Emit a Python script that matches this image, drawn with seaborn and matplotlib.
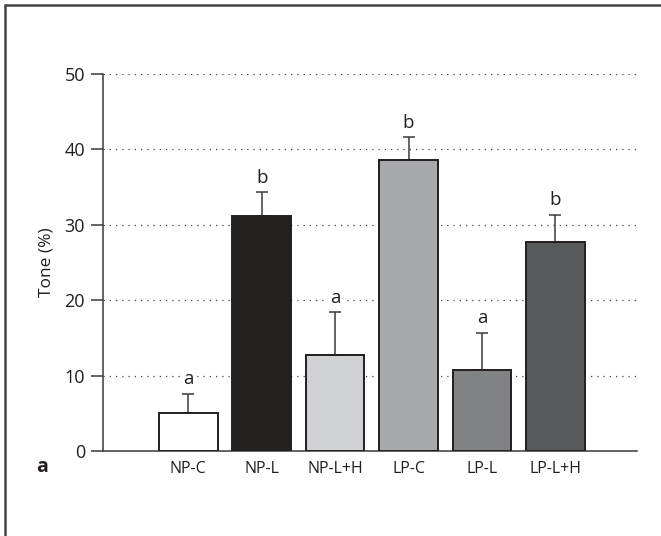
import numpy as np
import pandas as pd
import matplotlib
matplotlib.use("Agg")
import matplotlib.pyplot as plt
import seaborn as sns
from matplotlib.lines import Line2D

# Data
groups = ["NP-C", "NP-L", "NP-L+H", "LP-C", "LP-L", "LP-L+H"]
means = [5.1, 31.2, 12.7, 38.6, 10.7, 27.7]
sem = [2.5, 3.1, 5.7, 3.0, 5.0, 3.6]
letters = ["a", "b", "a", "b", "a", "b"]
bar_colors = ["#ffffff", "#231f20", "#d1d2d4", "#a7a9ac", "#808285", "#58595b"]

df = pd.DataFrame({"group": groups, "tone": means, "sem": sem})

sns.set_style("white")
plt.rcParams["font.family"] = ["Open Sans", "DejaVu Sans"]

fig = plt.figure(figsize=(6.61, 5.36), dpi=100)
ax = fig.add_axes([0.1558, 0.1586, 0.9637 - 0.1558, 0.862 - 0.1586])

sns.barplot(data=df, x="group", y="tone", hue="group", palette=bar_colors,
            width=0.8, edgecolor="#231f20", linewidth=1.4, legend=False,
            zorder=3, ax=ax)

x = np.arange(len(groups))
ax.errorbar(x, df["tone"], yerr=[np.zeros(len(sem)), df["sem"]], fmt="none",
            ecolor="#3a3a3a", elinewidth=1.1, capsize=4, capthick=1.1, zorder=2)

for xi, m, s, lab in zip(x, means, sem, letters):
    ax.annotate(lab, (xi, m + s), xytext=(0, 4), textcoords="offset points",
                ha="center", va="bottom", fontsize=13.5, color="#231f20",
                bbox=dict(boxstyle="square,pad=0.15", fc="white", ec="none"),
                zorder=4)

ax.set_xlim(-1.16, 6.11)
ax.set_ylim(0, 50)
ax.set_yticks([0, 10, 20, 30, 40, 50])
ax.yaxis.grid(True, linestyle=(0, (1, 4)), color="#444444", linewidth=0.9)
ax.set_axisbelow(True)

for side in ["top", "right"]:
    ax.spines[side].set_visible(False)
for side in ["left", "bottom"]:
    ax.spines[side].set_color("#3a3a3a")
    ax.spines[side].set_linewidth(1.1)

ax.tick_params(axis="y", direction="out", length=9, width=1.1, color="#3a3a3a",
               labelsize=13, pad=4, left=True, labelcolor="#231f20")
ax.tick_params(axis="x", length=0, labelsize=11.5, pad=7, labelcolor="#231f20")
ax.set_xlabel("")
ax.set_ylabel("Tone (%)", fontsize=12.5, labelpad=7, color="#231f20")

fig.text(0.063, 0.128, "a", fontsize=14, fontweight="bold", ha="center", va="center",
         color="#231f20")

# frame lines of the cropped panel
fig.add_artist(Line2D([0.007, 1.0], [0.991, 0.991], color="#444444", linewidth=1.8,
                      transform=fig.transFigure))
fig.add_artist(Line2D([0.007, 0.007], [0.0, 0.991], color="#444444", linewidth=1.8,
                      transform=fig.transFigure))

fig.savefig("out.png", dpi=100)
